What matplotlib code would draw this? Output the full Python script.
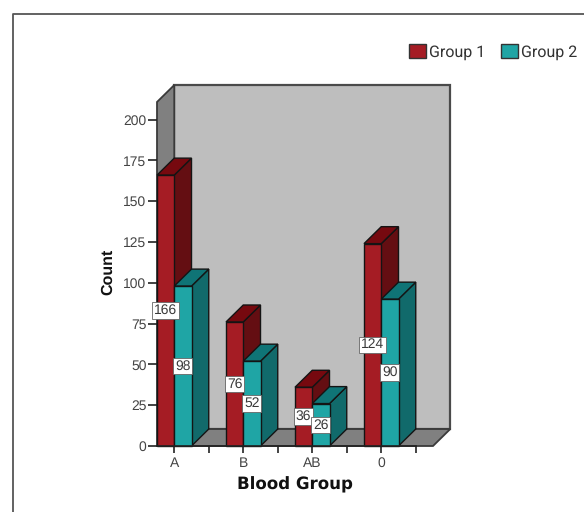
import matplotlib
matplotlib.use('Agg')
import matplotlib.pyplot as plt
from matplotlib.lines import Line2D
from matplotlib.patches import Patch, Polygon, Rectangle

# blood group counts
groups = ['A', 'B', 'AB', '0']
group1 = [166, 76, 36, 124]
group2 = [98, 52, 26, 90]
yticks = [0, 25, 50, 75, 100, 125, 150, 175, 200]
series_names = ['Group 1', 'Group 2']

bar_w = 0.25
dx = 0.25   # fake 3d depth, in data units
dy = 10.4
y_top = 210.8
x_lo, x_hi = -0.25, 3.75

edge = '#141414'
red = ('#A51C24', '#640E12', '#76090F')
teal = ('#1FA5A5', '#116A6B', '#0F7476')
sans = 'Liberation Sans'

plt.rcParams['text.hinting'] = 'none'  # keeps glyph widths as designed, reference is a blurry scan anyway
W, H = 584, 512
fig = plt.figure(figsize=(W / 100, H / 100), dpi=100)
# front plane of the box: 157..433 px wide, 102..446 px down
ax = fig.add_axes([157 / W, 1 - 446 / H, 276 / W, 344 / H])
ax.patch.set_visible(False)
ax.set_xlim(x_lo, x_hi)
ax.set_ylim(0, y_top)


def poly(pts, fc, ec=edge, lw=1.0, z=2):
    ax.add_patch(Polygon(pts, closed=True, fc=fc, ec=ec, lw=lw, zorder=z, clip_on=False))


# walls and floor
poly([(x_lo + dx, dy), (x_hi + dx, dy), (x_hi + dx, y_top + dy), (x_lo + dx, y_top + dy)],
     '#BEBEBE', ec='#4a4a4a', lw=1.6, z=1)
poly([(x_lo, 0), (x_lo + dx, dy), (x_lo + dx, y_top + dy), (x_lo, y_top)], '#808080', ec='#3a3a3a', lw=1.3, z=1)
poly([(x_lo, 0), (x_lo + dx, dy), (x_hi + dx, dy), (x_hi, 0)], '#808080', ec='#3a3a3a', lw=1.3, z=1)


def bar3d(x0, v, cols, z):
    x1 = x0 + bar_w
    poly([(x1, 0), (x1 + dx, dy), (x1 + dx, v + dy), (x1, v)], cols[1], z=z)
    poly([(x0, v), (x1, v), (x1 + dx, v + dy), (x0 + dx, v + dy)], cols[2], z=z)
    ax.add_patch(Rectangle((x0, 0), bar_w, v, fc=cols[0], ec=edge, lw=1.0, zorder=z, clip_on=False))


box = dict(boxstyle='square,pad=0.12', fc='white', ec='#666666', lw=0.6)
for i, g in enumerate(groups):
    bar3d(i - bar_w, group1[i], red, 3 + i)
    bar3d(i, group2[i], teal, 3.5 + i)
    ax.text(i - bar_w / 2, group1[i] / 2, str(group1[i]), ha='center', va='center', family=sans,
            fontsize=10, color='#3a3a3a', bbox=box, zorder=10)
    ax.text(i + bar_w / 2, group2[i] / 2, str(group2[i]), ha='center', va='center', family=sans,
            fontsize=10, color='#3a3a3a', bbox=box, zorder=10)

for s in ['top', 'right', 'bottom', 'left']:
    ax.spines[s].set_visible(False)
ax.set_yticks(yticks)
ax.tick_params(axis='y', length=6.5, width=1.2, color='#222222', labelsize=10, labelcolor='#444444', pad=1)
ax.set_xticks(range(len(groups)))
ax.set_xticklabels(groups)
ax.set_xticks([i + 0.5 for i in range(len(groups))], minor=True)
ax.tick_params(axis='x', which='major', length=5, width=1.2, color='#222222', labelsize=10,
               labelcolor='#444444', pad=3)
ax.tick_params(axis='x', which='minor', length=5, width=1.2, color='#222222')
for t in ax.get_xticklabels() + ax.get_yticklabels():
    t.set_family(sans)
ax.add_line(Line2D([x_lo, 3.5], [0, 0], color='#222222', lw=1.2, zorder=20, clip_on=False))

fig.text(108 / W, 1 - 272 / H, 'Count', rotation=90, ha='center', va='center', family=sans,
         fontsize=11.5, fontweight='bold', color='#111111')
fig.text(295 / W, 1 - 485 / H, 'Blood Group', ha='center', va='center',
         fontsize=12, fontweight='bold', color='#111111', family='DejaVu Sans')

# outer frame of the original picture, only top and left are visible
fig.add_artist(Line2D([13 / W, 13 / W, 1], [0, 1 - 13.5 / H, 1 - 13.5 / H], color='#555555', lw=1.3))

handles = [Patch(fc=red[0], ec='#333333', lw=1.0), Patch(fc=teal[0], ec='#333333', lw=1.0)]
fig.legend(handles, series_names, loc='center right', bbox_to_anchor=(577 / W, 1 - 52 / H), ncol=2,
           frameon=False, handlelength=1.06, handleheight=1.0, handletextpad=0.2, columnspacing=0.95,
           borderpad=0, borderaxespad=0, labelcolor='#333333', prop={'family': 'Roboto', 'size': 11.5})

fig.savefig('out.png', dpi=100)
